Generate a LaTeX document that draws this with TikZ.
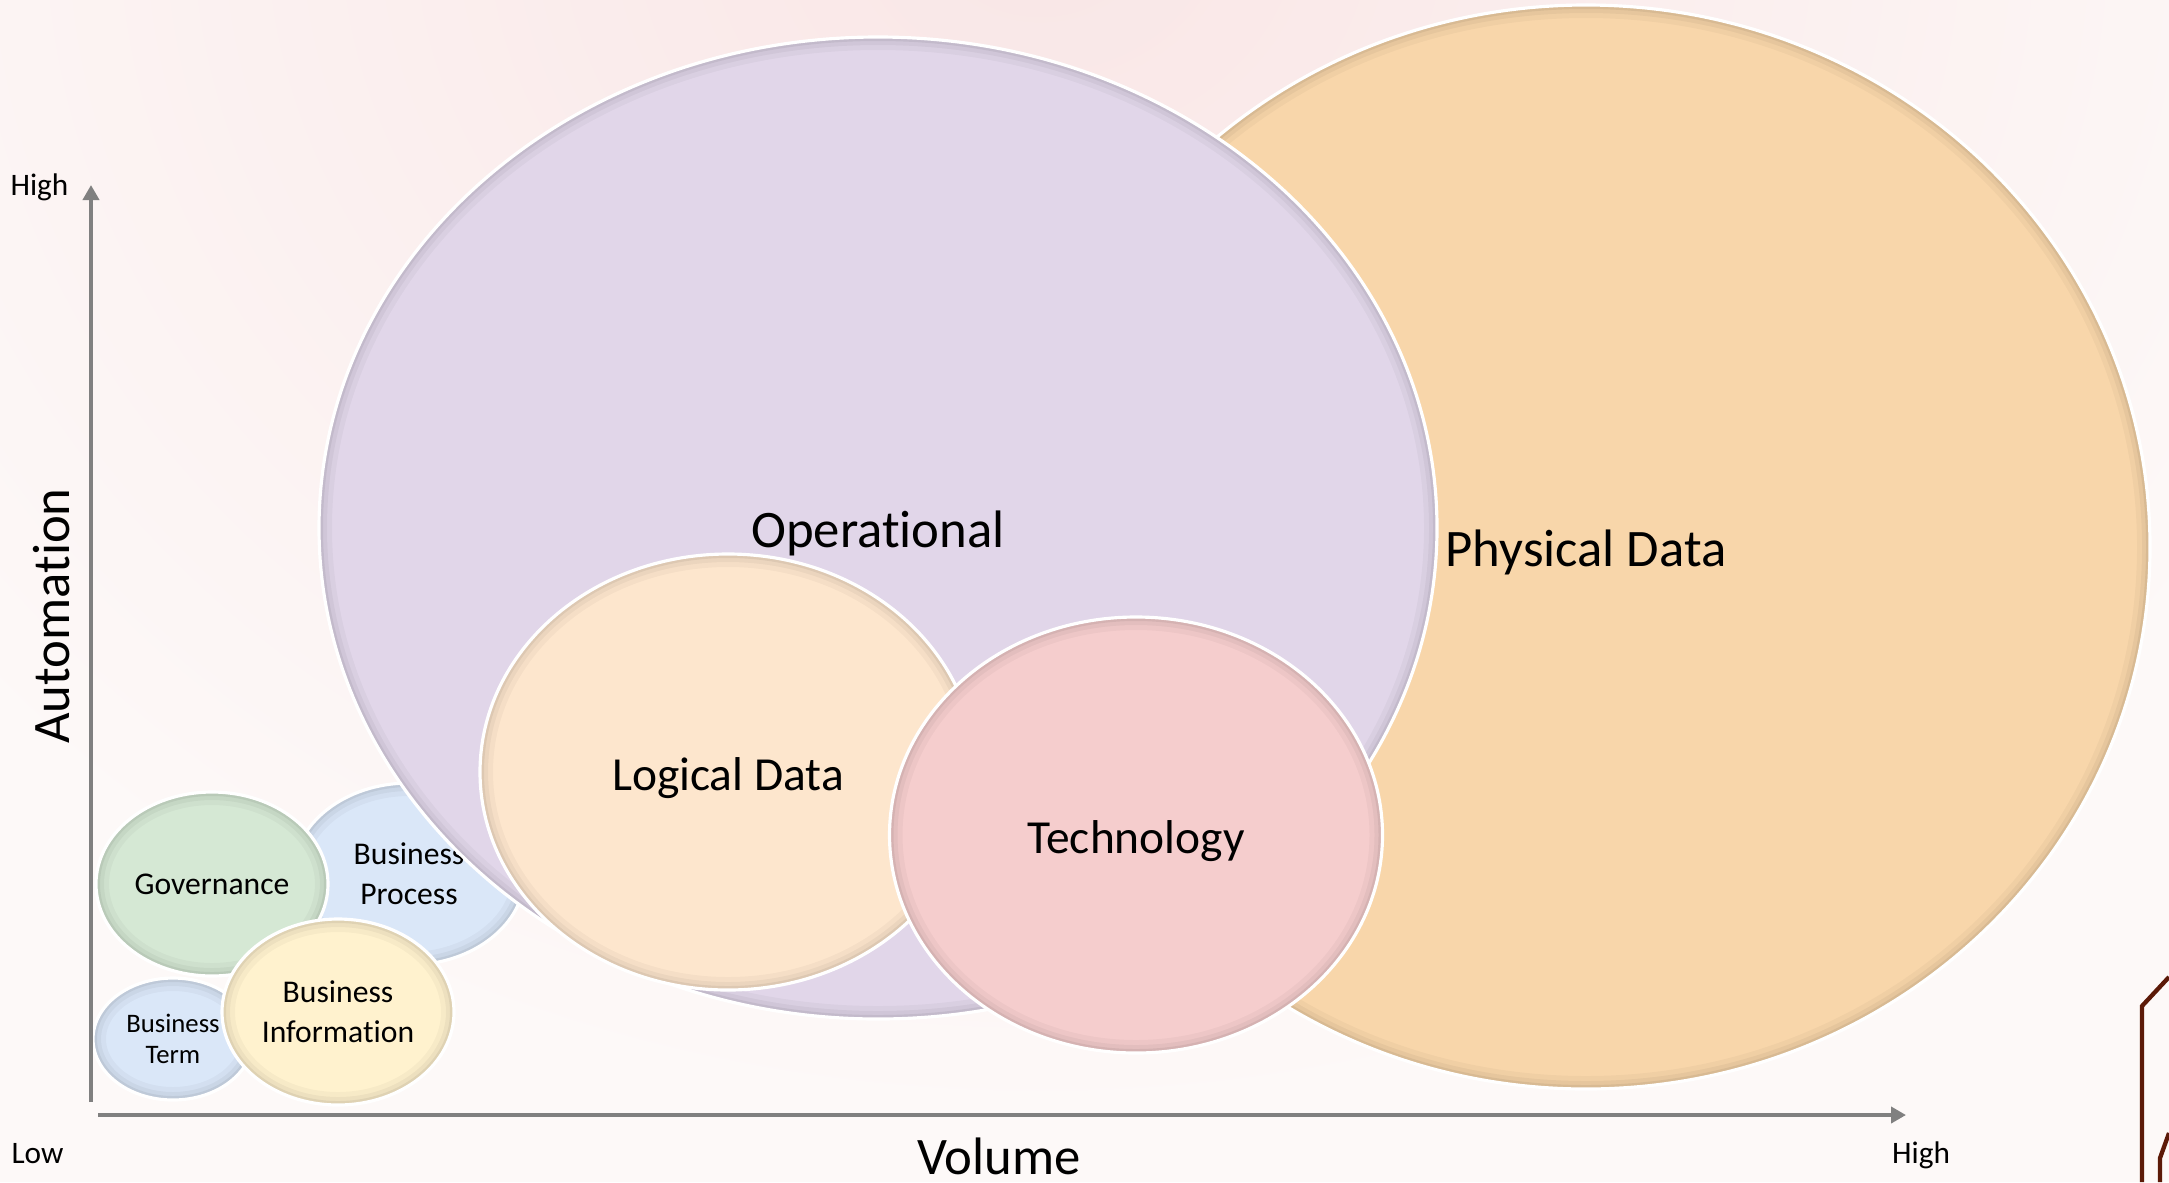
\documentclass[tikz,border=0pt]{standalone}
\usepackage{fontspec}
\setmainfont{Carlito}[Ligatures=NoCommon]
\usetikzlibrary{shapes.geometric,arrows.meta,calc}

\definecolor{physcol}{RGB}{248,214,170}
\definecolor{opercol}{RGB}{225,214,233}
\definecolor{logiccol}{RGB}{253,230,205}
\definecolor{techcol}{RGB}{245,205,205}
\definecolor{govcol}{RGB}{213,232,212}
\definecolor{bluecol}{RGB}{218,231,248}
\definecolor{infocol}{RGB}{255,242,206}
\definecolor{axisgray}{RGB}{128,128,128}
\definecolor{bgpink}{RGB}{249,230,230}
\definecolor{bgbase}{RGB}{253,249,248}
\definecolor{cornerred}{RGB}{92,26,8}

% soft darker rim just inside a bubble
\newcommand{\rimring}[2]{%
  \draw[black, opacity=#1, line width=#2]
    let \p1=(path picture bounding box.north east), \p2=(path picture bounding box.center)
    in (\p2) ellipse [x radius=\x1-\x2, y radius=\y1-\y2];}

\tikzset{
  bubble/.style={ellipse, draw=white, line width=0.9pt, inner sep=0pt, align=center,
    path picture={\rimring{0.03}{0.26cm}\rimring{0.04}{0.16cm}\rimring{0.06}{0.08cm}}},
  axis/.style={draw=axisgray, line width=0.04cm, -{Triangle[width=0.16cm, length=0.15cm]}},
  tick/.style={font=\fontsize{8.9}{10.7}\selectfont, anchor=base},
  title/.style={font=\fontsize{15}{18}\selectfont, anchor=base},
  bigtext/.style={font=\fontsize{15}{18}\selectfont, text height=14pt, text depth=2.8pt},
  midtext/.style={font=\fontsize{13.5}{16}\selectfont, text height=12.6pt, text depth=2.3pt},
}

\begin{document}
\begin{tikzpicture}
  \useasboundingbox (0,0) rectangle (21.69,11.82);
  % background
  \fill[bgbase] (0,0) rectangle (21.69,11.82);
  \begin{scope}
    \clip (0,0) rectangle (21.69,11.82);
    \shade[inner color=bgpink, outer color=bgbase] (10.4,12.6) ellipse [x radius=14, y radius=12];
  \end{scope}
  \draw[cornerred, line width=0.043cm] (21.69,2.05) -- (21.42,1.76) -- (21.42,0);
  \draw[cornerred, line width=0.043cm] (21.69,0.49) -- (21.60,0.24) -- (21.60,0);

  % bubbles, back to front
  \node[bubble, bigtext, fill=physcol, minimum width=11.28cm, minimum height=10.84cm]
    (phys) at (15.86,6.35) {Physical Data};
  \node[bubble, fill=bluecol, minimum width=2.32cm, minimum height=1.82cm,
    font=\fontsize{9}{11.4}\selectfont] (bproc) at (4.09,3.08) {Business\\Process};
  \node[bubble, bigtext, fill=opercol, minimum width=11.18cm, minimum height=9.82cm]
    (oper) at (8.78,6.54) {Operational};
  \node[bubble, midtext, fill=logiccol, minimum width=4.96cm, minimum height=4.36cm]
    (logic) at (7.28,4.10) {Logical Data};
  \node[bubble, midtext, fill=techcol, minimum width=4.93cm, minimum height=4.36cm]
    (tech) at (11.36,3.47) {Technology};
  \node[bubble, fill=govcol, minimum width=2.32cm, minimum height=1.84cm,
    font=\fontsize{9}{11.4}\selectfont] (gov) at (2.12,2.98) {Governance};
  \node[bubble, fill=bluecol, minimum width=1.60cm, minimum height=1.22cm,
    font=\fontsize{7.6}{8.7}\selectfont] (bterm) at (1.73,1.43) {Business\\Term};
  \node[bubble, fill=infocol, minimum width=2.32cm, minimum height=1.86cm,
    font=\fontsize{9}{11.4}\selectfont] (binfo) at (3.38,1.70) {Business\\Information};

  % axes
  \coordinate (yfoot) at (0.91,0.80);
  \coordinate (ytip) at (0.91,9.97);
  \coordinate (xfoot) at (0.98,0.67);
  \coordinate (xtip) at (19.06,0.67);
  \draw[axis] (yfoot) to (ytip);
  \draw[axis] (xfoot) to (xtip);

  \node[tick] (yhigh) at (0.395,9.87) {High};
  \node[tick] (low) at (0.375,0.19) {Low};
  \node[tick] (xhigh) at (19.21,0.19) {High};
  \node[title] (volume) at (9.99,0.08) {Volume};
  \node[title, rotate=90] (automation) at (0.69,5.66) {Automation};
\end{tikzpicture}
\end{document}
